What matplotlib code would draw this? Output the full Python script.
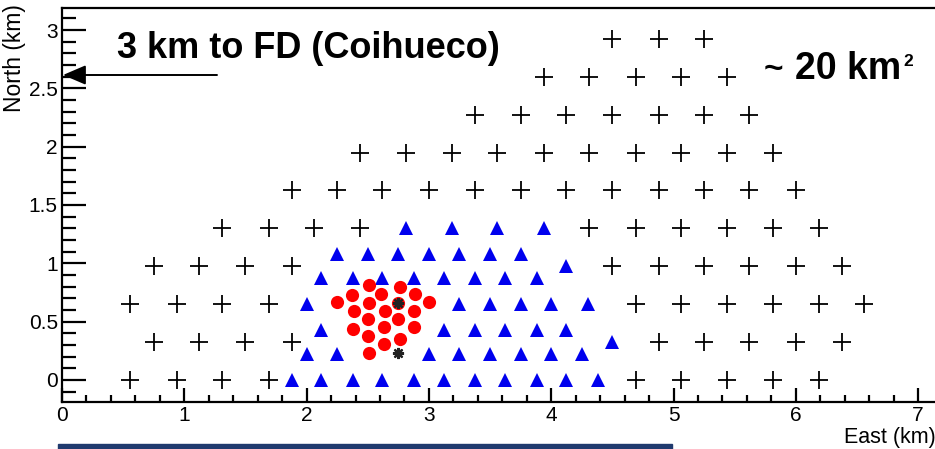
import matplotlib
matplotlib.use("Agg")
import matplotlib.pyplot as plt
from matplotlib.ticker import MultipleLocator
from matplotlib.patches import Rectangle, FancyArrowPatch

plt.rcParams['font.family'] = ['Liberation Sans', 'DejaVu Sans']

# Regular (750 m) array stations, one list of East positions per row
row_north = [0.0, 0.325, 0.65, 0.975, 1.30, 1.625, 1.95, 2.275, 2.60, 2.925]
row_east = [
    [0.56, 0.94, 1.31, 1.69, 4.69, 5.06, 5.44, 5.81, 6.19],
    [0.75, 1.12, 1.50, 1.88, 4.88, 5.25, 5.62, 6.00, 6.38],
    [0.56, 0.94, 1.31, 1.69, 4.69, 5.06, 5.44, 5.81, 6.19, 6.56],
    [0.75, 1.12, 1.50, 1.88, 4.50, 4.88, 5.25, 5.62, 6.00, 6.38],
    [1.31, 1.69, 2.06, 2.44, 4.31, 4.69, 5.06, 5.44, 5.81, 6.19],
    [1.88, 2.25, 2.62, 3.00, 3.38, 3.75, 4.12, 4.50, 4.88, 5.25, 5.62, 6.00],
    [2.44, 2.81, 3.19, 3.56, 3.94, 4.31, 4.69, 5.06, 5.44, 5.81],
    [3.38, 3.75, 4.12, 4.50, 4.88, 5.25, 5.62],
    [3.94, 4.31, 4.69, 5.06, 5.44],
    [4.50, 4.88, 5.25],
]

# Infill stations (blue triangles)
tri_north = [0.0, 0.22, 0.43, 0.65, 0.87, 1.08, 1.30, 0.325, 0.975]
tri_east = [
    [1.88, 2.12, 2.38, 2.62, 2.88, 3.12, 3.38, 3.62, 3.88, 4.12, 4.38],
    [2.00, 2.25, 3.00, 3.25, 3.50, 3.75, 4.00, 4.25],
    [2.12, 3.12, 3.38, 3.62, 3.88, 4.12],
    [2.00, 3.25, 3.50, 3.75, 4.00, 4.30],
    [2.12, 2.38, 2.62, 2.88, 3.12, 3.38, 3.62, 3.88],
    [2.25, 2.50, 2.75, 3.00, 3.25, 3.50, 3.75],
    [2.81, 3.19, 3.56, 3.94],
    [4.50],
    [4.12],
]

# Dense cluster (red circles)
dot_east = [2.51, 2.76, 2.37, 2.61, 2.89, 2.25, 2.51, 2.75, 3.00, 2.39, 2.64,
            2.88, 2.50, 2.75, 2.38, 2.63, 2.88, 2.50, 2.76, 2.63, 2.51]
dot_north = [0.81, 0.80, 0.73, 0.74, 0.74, 0.67, 0.66, 0.66, 0.67, 0.59, 0.59,
             0.59, 0.52, 0.52, 0.44, 0.45, 0.45, 0.38, 0.35, 0.31, 0.23]

# Reference positions (asterisks)
star_east = [2.75, 2.75]
star_north = [0.66, 0.23]

xlim = (0.0, 7.2)
ylim = (-0.19, 3.19)
xticks = [0, 1, 2, 3, 4, 5, 6, 7]
yticks = [0, 0.5, 1, 1.5, 2, 2.5, 3]
ytick_labels = ["0", "0.5", "1", "1.5", "2", "2.5", "3"]

W, H = 935, 449
fig = plt.figure(figsize=(W / 100, H / 100), dpi=100)
ax = fig.add_axes([62 / W, (H - 402) / H, 880.6 / W, 394 / H])

for yv, xs in zip(row_north, row_east):
    ax.plot(xs, [yv] * len(xs), linestyle='none', marker='+', color='black',
            markersize=12.5, markeredgewidth=1.3)
for yv, xs in zip(tri_north, tri_east):
    ax.plot(xs, [yv] * len(xs), linestyle='none', marker='^', color='#0000ee',
            markersize=10, markeredgewidth=0)
ax.plot(dot_east, dot_north, linestyle='none', marker='o', color='#ff0000',
        markersize=9.5, markeredgewidth=0)
ax.plot(star_east, star_north, linestyle='none', marker=(8, 2, 0), color='#222222',
        markersize=8, markeredgewidth=1.6)

ax.set_xlim(*xlim)
ax.set_ylim(*ylim)
ax.set_xticks(xticks)
ax.set_yticks(yticks)
ax.set_yticklabels(ytick_labels)
ax.xaxis.set_minor_locator(MultipleLocator(0.2))
ax.yaxis.set_minor_locator(MultipleLocator(0.1))
ax.tick_params(axis='both', which='both', direction='in', colors='black',
               labelsize=15, width=1.6)
ax.tick_params(axis='x', which='major', length=10, pad=3)
ax.tick_params(axis='x', which='minor', length=5)
ax.tick_params(axis='y', which='major', length=17, pad=3)
ax.tick_params(axis='y', which='minor', length=10)
ax.tick_params(top=False, right=False, which='both')
for s in ax.spines.values():
    s.set_linewidth(1.6)

fig.text(936 / W, 1 - 438 / H, "East (km)", ha='right', va='center', fontsize=15.5)
fig.text(15 / W, 1 - 4 / H, "North (km)", rotation=90, ha='center', va='top',
         fontsize=16.5)

fig.text(117 / W, 1 - 49 / H, "3 km to FD (Coihueco)", ha='left', va='center',
         fontsize=26, fontweight='bold')

# Area label with a small superscript placed right after the main text
fig.text(764 / W, 1 - 70 / H, "~", ha='left', va='center',
         fontsize=24, fontweight='bold')
area = fig.text(795 / W, 1 - 69 / H, "20 km", ha='left', va='center',
                fontsize=27, fontweight='bold')
fig.canvas.draw()
bb = area.get_window_extent()
fig.text((bb.x1 + 2) / W, 1 - 61 / H, "2", ha='left', va='center',
         fontsize=12.5, fontweight='bold')

fig.add_artist(FancyArrowPatch(
    (217 / W, 1 - 75 / H), (63 / W, 1 - 75 / H), transform=fig.transFigure,
    arrowstyle='-|>,head_length=14,head_width=6', mutation_scale=1.0,
    color='black', linewidth=1.4, shrinkA=0, shrinkB=0))

fig.add_artist(Rectangle((58 / W, 0), (672 - 58) / W, 5 / H,
                         transform=fig.transFigure, color='#1f3a6e'))

fig.savefig("out.png", dpi=100)
